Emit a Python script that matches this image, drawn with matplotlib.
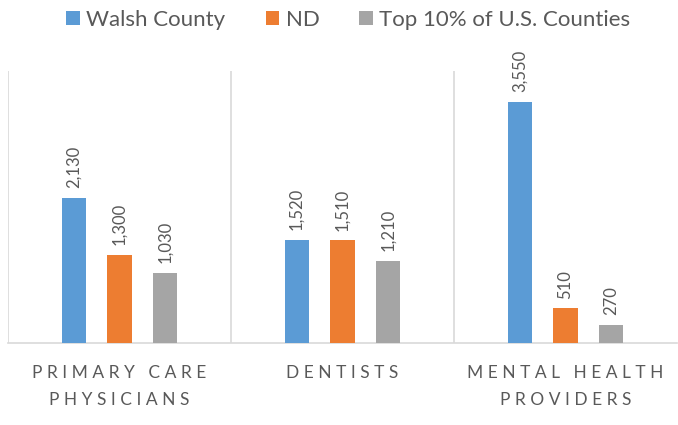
import matplotlib.pyplot as plt
import numpy as np

categories = ["PRIMARY CARE\nPHYSICIANS", "DENTISTS", "MENTAL HEALTH\nPROVIDERS"]
series_names = ["Walsh County", "ND", "Top 10% of U.S. Counties"]
walsh = [2130, 1520, 3550]
nd = [1300, 1510, 510]
top10 = [1030, 1210, 270]
colors = ["#5B9BD5", "#ED7D31", "#A5A5A5"]

plt.rcParams['font.family'] = ['Lato', 'DejaVu Sans']


def spaced(label):
    # letter-spaced category text like the original
    return "\n".join(" ".join(line) for line in label.split("\n"))


fig = plt.figure(facecolor='w', figsize=(6.78, 4.25), dpi=100)
ax = fig.add_axes([8 / 678, 82 / 425, 669 / 678, 272 / 425])

x = np.arange(len(categories))
width = 0.108
step = 0.206
for i, (vals, name) in enumerate(zip([walsh, nd, top10], series_names)):
    pos = x + (i - 1) * step
    bars = ax.bar(pos, vals, width, color=colors[i], label=name, zorder=3)
    for b, v in zip(bars, vals):
        ax.annotate(f"{v:,}", (b.get_x() + b.get_width() / 2, v),
                    xytext=(0, 7), textcoords='offset points',
                    rotation=90, ha='center', va='bottom',
                    fontsize=12, color='#595959')

ax.set_xlim(-0.5, 2.5)
ax.set_ylim(0, 4000)
for s in ['top', 'right', 'left']:
    ax.spines[s].set_visible(False)
ax.spines['bottom'].set_color('#D9D9D9')
ax.spines['bottom'].set_linewidth(1.2)
for b in [-0.5, 0.5, 1.5]:
    ax.axvline(b, color='#D9D9D9', lw=1.2, zorder=1)

ax.set_yticks([])
ax.set_xticks(x)
ax.set_xticklabels([spaced(c) for c in categories], fontsize=12.5,
                   color='#595959', linespacing=1.85)
ax.tick_params(axis='x', length=0, pad=16)

ax.legend(loc='center', bbox_to_anchor=(0.509, (405 - 82) / 272), ncol=3,
          frameon=False, fontsize=16, labelcolor='#595959',
          handlelength=0.6, handleheight=0.6, handletextpad=0.3,
          columnspacing=1.8)

plt.savefig('out.png', dpi=100)
